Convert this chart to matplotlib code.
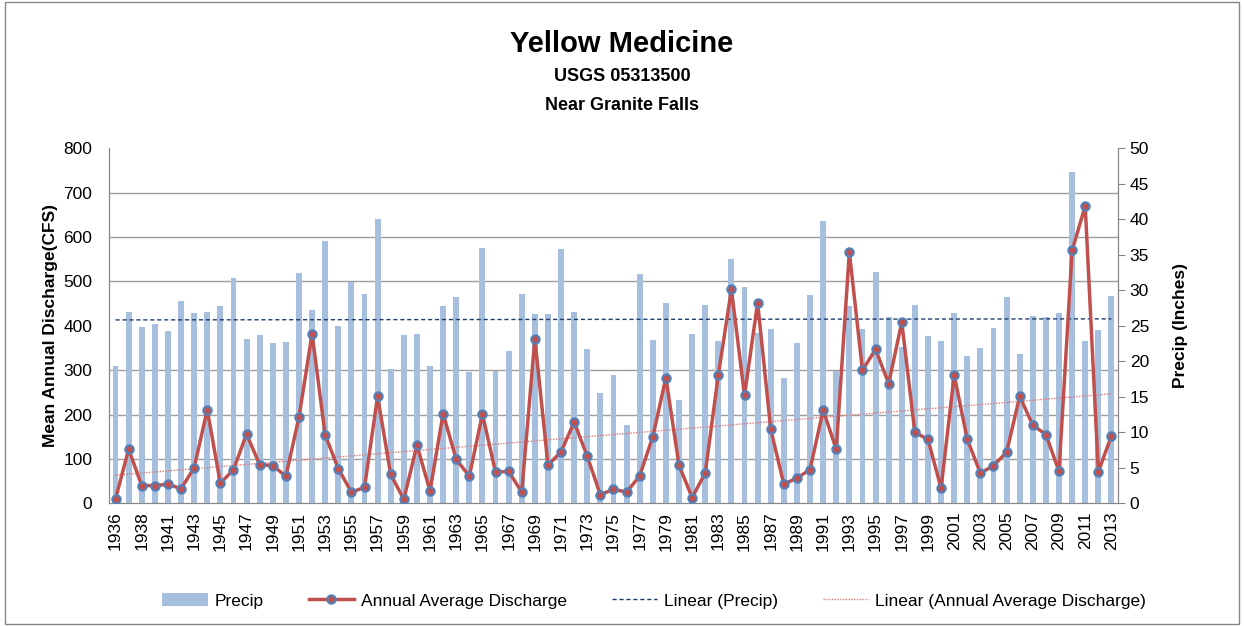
import numpy as np
import matplotlib.pyplot as plt
from matplotlib.patches import Rectangle

plt.rcParams['font.family'] = ['Liberation Sans', 'DejaVu Sans']

# Data
years = [1936, 1937, 1938, 1940] + list(range(1941, 2014))
precip = [19.3, 26.9, 24.8, 25.2, 24.3, 28.5, 26.8, 27.0, 27.8, 31.7,
          23.2, 23.7, 22.6, 22.7, 32.4, 27.2, 37.0, 25.0, 31.2, 29.5,
          40.1, 18.9, 23.7, 23.9, 19.3, 27.8, 29.0, 18.5, 35.9, 18.6,
          21.4, 29.5, 26.7, 26.7, 35.8, 26.9, 21.7, 15.5, 18.1, 11.1,
          32.3, 23.0, 28.2, 14.6, 23.9, 28.0, 22.8, 34.4, 30.5, 24.0,
          24.6, 17.7, 22.6, 29.4, 39.7, 18.7, 27.8, 24.6, 32.6, 26.3,
          22.0, 28.0, 23.5, 22.9, 26.8, 20.8, 21.9, 24.7, 29.1, 21.1,
          26.4, 26.3, 26.8, 46.7, 22.8, 24.4, 29.2]
discharge = [10, 122, 40, 40, 43, 33, 80, 211, 45, 76,
             156, 87, 85, 61, 194, 382, 154, 78, 25, 36,
             241, 65, 9, 131, 28, 202, 99, 61, 201, 70,
             72, 25, 371, 86, 116, 183, 106, 19, 32, 25,
             62, 150, 283, 86, 13, 68, 289, 482, 243, 452,
             167, 43, 57, 76, 210, 122, 566, 300, 347, 270,
             408, 160, 144, 34, 289, 144, 68, 85, 115, 241,
             176, 155, 72, 570, 670, 71, 152]

year_labels = [str(y) for y in years]
left_ticks = np.arange(0, 801, 100)
right_ticks = np.arange(0, 51, 5)

x = np.arange(len(years))

fig = plt.figure(figsize=(12.44, 6.26), dpi=100)
ax = fig.add_axes([0.0876, 0.196, 0.8111, 0.567])
ax2 = ax.twinx()

# bars (precip) on the secondary axis, drawn underneath
bars = ax2.bar(x, precip, width=0.45, color='#A7BFDE', label='Precip', zorder=2)
ax2.set_ylim(0, 50)
ax2.set_yticks(right_ticks)
ax2.set_yticks(np.arange(0, 50.01, 6.25), minor=True)
ax2.tick_params(axis='y', which='minor', length=0)
ax2.tick_params(axis='y', which='major', length=5, color='#878787', labelsize=12.5)
ax2.grid(axis='y', which='minor', color='#9E9E9E', linewidth=1.0, zorder=0)
ax2.set_axisbelow(True)
ax2.set_ylabel('Precip (Inches)', fontsize=12.5, fontweight='bold', labelpad=17)

# precip trend line
p_fit = np.polyfit(x, precip, 1)
p_trend, = ax2.plot(x, np.polyval(p_fit, x), linestyle=(0, (3, 2)), color='#1F3E6E',
                    linewidth=1.0, label='Linear (Precip)', zorder=3)

# discharge line on the primary axis, on top
ax.set_zorder(ax2.get_zorder() + 1)
ax.patch.set_visible(False)
d_line, = ax.plot(x, discharge, color='#C0504D', linewidth=2.5, marker='o', markersize=6,
                  markerfacecolor='#C0504D', markeredgecolor='#4F81BD', markeredgewidth=1.5,
                  label='Annual Average Discharge', zorder=4)
d_fit = np.polyfit(x, discharge, 1)
d_trend, = ax.plot(x, np.polyval(d_fit, x), linestyle=(0, (1, 1)), color='#E07A78',
                   linewidth=1.0, label='Linear (Annual Average Discharge)', zorder=3)

ax.set_ylim(0, 800)
ax.set_yticks(left_ticks)
ax.set_xlim(-0.5, len(years) - 0.5)
ax.set_xticks(x[::2])
ax.set_xticklabels(year_labels[::2], rotation=90, fontsize=12.5)
ax.tick_params(axis='x', length=0, pad=6)
ax.tick_params(axis='y', length=0, labelsize=12.5, pad=12)
ax.set_ylabel('Mean Annual Discharge(CFS)', fontsize=12.5, fontweight='bold', labelpad=4)

for a in (ax, ax2):
    a.spines['top'].set_visible(False)
    for s in ('left', 'right', 'bottom'):
        a.spines[s].set_color('#878787')

# titles
fig.text(0.5, 0.93, 'Yellow Medicine', ha='center', va='center', fontsize=21, fontweight='bold')
fig.text(0.5, 0.877, 'USGS 05313500', ha='center', va='center', fontsize=13, fontweight='bold')
fig.text(0.5, 0.832, 'Near Granite Falls', ha='center', va='center', fontsize=13, fontweight='bold')

# legend
handles = [bars, d_line, p_trend, d_trend]
labels = [h.get_label() for h in handles]
fig.legend(handles, labels, loc='center', bbox_to_anchor=(0.526, 0.04), ncol=4,
           frameon=False, fontsize=12.5, handlelength=2.6, columnspacing=2.6,
           handletextpad=0.4)

# chart border
fig.patches.append(Rectangle((0.004, 0.003), 0.992, 0.994, transform=fig.transFigure,
                             fill=False, edgecolor='#878787', linewidth=1.0))

fig.savefig('out.png', dpi=100)
